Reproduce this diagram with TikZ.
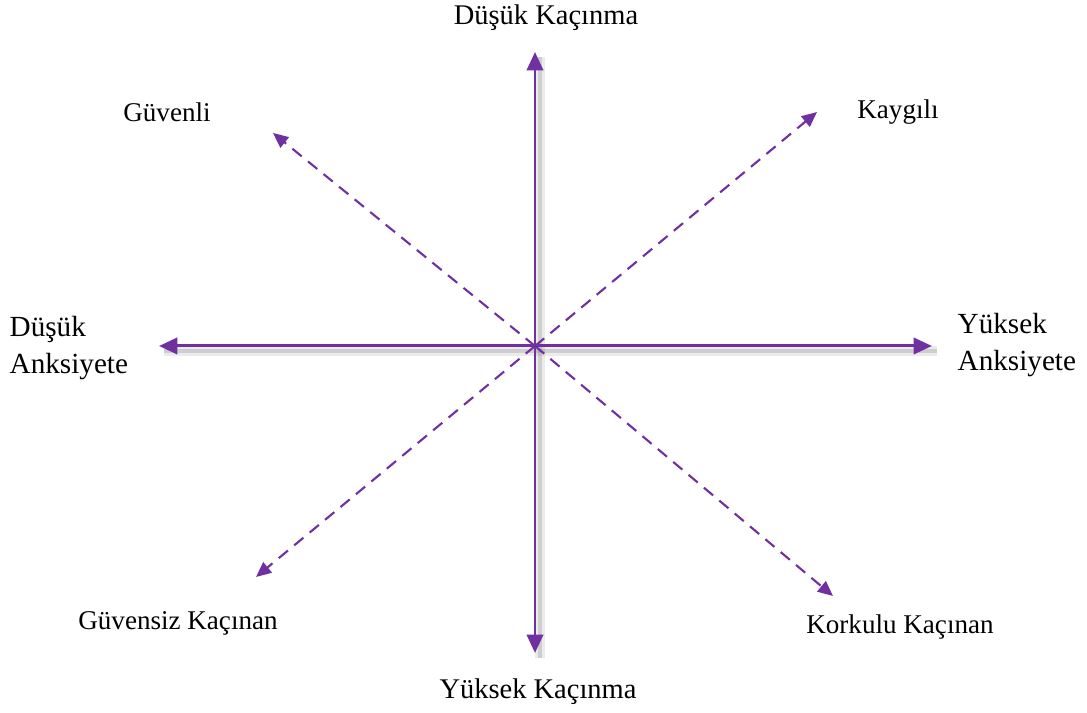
\documentclass[tikz,border=0pt]{standalone}
\usepackage{fontspec}
\setmainfont{Liberation Serif}
\usetikzlibrary{arrows.meta}
\definecolor{mor}{HTML}{7030A0}
\tikzset{
  axis/.style={color=mor, line width=0.85pt, {Triangle[length=5.2pt,width=4.6pt]}-{Triangle[length=5.2pt,width=4.6pt]}},
  diag/.style={color=mor, line width=0.6pt, dash pattern=on 3.4pt off 2.3pt, -{Triangle[length=4.3pt,width=3.8pt]}},
  shadowline/.style={draw=black, opacity=0.08, line width=2.8pt, transform canvas={xshift=0.05cm, yshift=-0.05cm}},
  txt/.style={inner sep=0pt, align=left},
  corner/.style={txt, font=\fontsize{7.7}{9.5}\selectfont}
}
\begin{document}
\begin{tikzpicture}[x=0.01cm, y=-0.01cm, font=\fontsize{8.3}{10.3}\selectfont]
    \useasboundingbox (0,0) rectangle (1087,713);
    \fill[white] (0,0) rectangle (1087,713);

    \coordinate (o) at (535,346);
    \coordinate (n) at (535,52);
    \coordinate (s) at (535,653);
    \coordinate (w) at (159,346);
    \coordinate (e) at (932,346);
    \coordinate (nw) at (273,133);
    \coordinate (ne) at (817,112);
    \coordinate (sw) at (256,577);
    \coordinate (se) at (833,596);

    \node [txt, font=\fontsize{8.1}{10}\selectfont] (dk) at (546,18) {Düşük Kaçınma};
    \node [txt, font=\fontsize{8.1}{10}\selectfont] (yk) at (538,692) {Yüksek Kaçınma};
    \node [txt, anchor=west] (da) at (9,348) {Düşük\\Anksiyete};
    \node [txt, anchor=west] (ya) at (957,345) {Yüksek\\Anksiyete};
    \node [corner] (guv) at (167,112) {Güvenli};
    \node [corner] (kay) at (898,112) {Kaygılı};
    \node [corner] (gk) at (178,623) {Güvensiz Kaçınan};
    \node [corner] (kk) at (900,627) {Korkulu Kaçınan};

    % shadows of the two axes
    \draw[shadowline] (n) -- (s);
    \draw[shadowline] (w) -- (e);
    \draw[shadowline, line width=1.3pt, opacity=0.12] (n) -- (s);
    \draw[shadowline, line width=1.3pt, opacity=0.12] (w) -- (e);

    \draw[diag] (o) -- (nw);
    \draw[diag] (o) -- (ne);
    \draw[diag] (o) -- (sw);
    \draw[diag] (o) -- (se);

    \draw[axis] (n) -- (s);
    \draw[axis] (w) -- (e);
\end{tikzpicture}
\end{document}
